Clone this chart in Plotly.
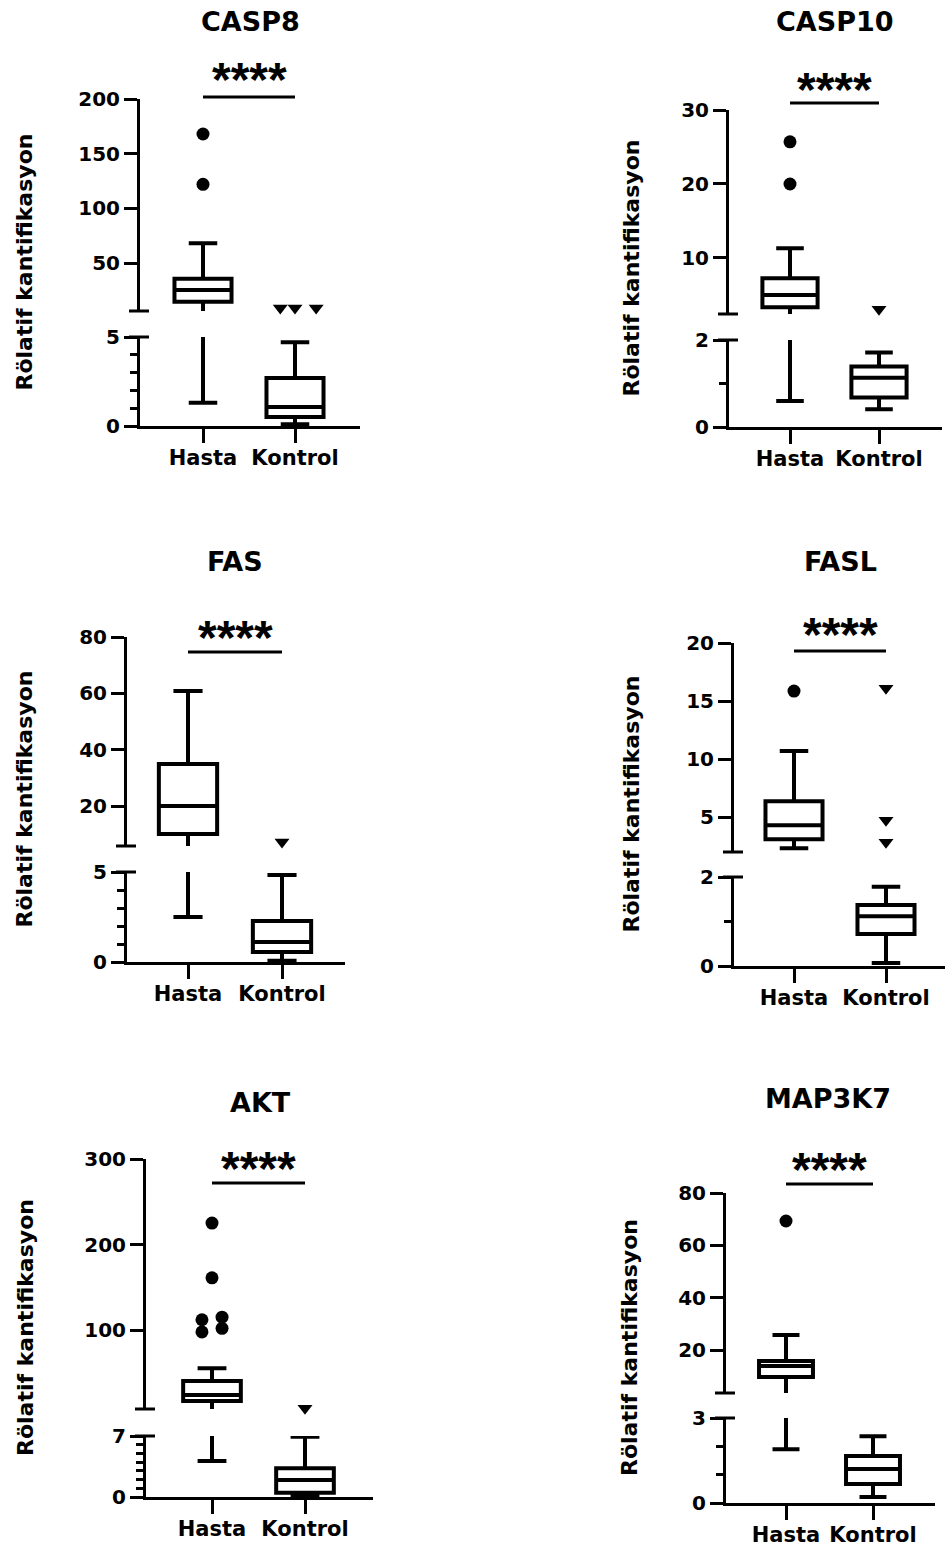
import plotly.graph_objects as go

W, H = 945, 1549

genes = ["CASP8", "CASP10", "FAS", "FASL", "AKT", "MAP3K7"]
groups = ["Hasta", "Kontrol"]
significance = ["****", "****", "****", "****", "****", "****"]
y_title = "Rölatif kantifikasyon"

# Five-number summaries: [lower whisker, Q1, median, Q3, upper whisker]
casp8_hasta = [1.3, 14.6, 25.3, 35.6, 68.0]
casp8_kontrol = [0.1, 0.5, 1.07, 2.7, 4.7]
casp10_hasta = [0.6, 3.33, 5.0, 7.26, 11.3]
casp10_kontrol = [0.41, 0.68, 1.13, 1.39, 1.71]
fas_hasta = [2.5, 10.1, 20.0, 34.9, 60.8]
fas_kontrol = [0.07, 0.56, 1.11, 2.28, 4.83]
fasl_hasta = [2.33, 3.1, 4.31, 6.38, 10.7]
fasl_kontrol = [0.07, 0.72, 1.12, 1.37, 1.78]
akt_hasta = [4.13, 17.0, 24.0, 40.4, 55.2]
akt_kontrol = [0.1, 0.5, 1.95, 3.29, 6.92]
map3k7_hasta = [1.9, 9.7, 13.9, 15.8, 25.7]
map3k7_kontrol = [0.21, 0.67, 1.2, 1.66, 2.36]

# Outliers
casp8_hasta_out = [168, 122]
casp8_kontrol_out = [8.8, 8.8, 8.8]
casp10_hasta_out = [25.7, 20.0]
casp10_kontrol_out = [3.07]
fas_hasta_out = []
fas_kontrol_out = [7.2]
fasl_hasta_out = [15.86]
fasl_kontrol_out = [16.1, 4.74, 2.84]
akt_hasta_out = [225, 161, 112, 97.7, 115, 102]
akt_kontrol_out = [8.4]
map3k7_hasta_out = [69.3]
map3k7_kontrol_out = []

stats = {
    "CASP8": (casp8_hasta, casp8_kontrol),
    "CASP10": (casp10_hasta, casp10_kontrol),
    "FAS": (fas_hasta, fas_kontrol),
    "FASL": (fasl_hasta, fasl_kontrol),
    "AKT": (akt_hasta, akt_kontrol),
    "MAP3K7": (map3k7_hasta, map3k7_kontrol),
}
outliers = {
    "CASP8": (casp8_hasta_out, casp8_kontrol_out),
    "CASP10": (casp10_hasta_out, casp10_kontrol_out),
    "FAS": (fas_hasta_out, fas_kontrol_out),
    "FASL": (fasl_hasta_out, fasl_kontrol_out),
    "AKT": (akt_hasta_out, akt_kontrol_out),
    "MAP3K7": (map3k7_hasta_out, map3k7_kontrol_out),
}

# ---- layout / style (pixel geometry of each panel) ----
jitter = {
    "CASP8": ([0, 0], [-0.16, 0.0, 0.23]),
    "CASP10": ([0, 0], [0]),
    "FAS": ([], [0]),
    "FASL": ([0], [0, 0, 0]),
    "AKT": ([0, 0, -0.108, -0.108, 0.108, 0.108], [0]),
    "MAP3K7": ([0], []),
}
P = {
    "CASP8": dict(x=(140, 360), cat=(203, 295), top=(99, 311), trange=(6.1, 200),
                  tticks=[50, 100, 150, 200], bot=(337, 426), bmax=5,
                  title=(250, 22), ytx=24, stars=73, line=97),
    "CASP10": dict(x=(729, 942), cat=(790, 879), top=(110, 314), trange=(2.43, 30),
                   tticks=[10, 20, 30], bot=(340, 427), bmax=2,
                   title=(835, 22), ytx=631, stars=83, line=103),
    "FAS": dict(x=(127, 345), cat=(188, 282), top=(637, 846), trange=(5.8, 80),
                tticks=[20, 40, 60, 80], bot=(872, 962), bmax=5,
                title=(235, 562), ytx=24, stars=632, line=652),
    "FASL": dict(x=(734, 945), cat=(794, 886), top=(643, 852), trange=(2.0, 20),
                 tticks=[5, 10, 15, 20], bot=(877, 966), bmax=2,
                 title=(840, 562), ytx=631, stars=628, line=651),
    "AKT": dict(x=(146, 373), cat=(212, 305), top=(1159, 1409), trange=(7.6, 300),
                tticks=[100, 200, 300], bot=(1436, 1497), bmax=7,
                title=(260, 1102), ytx=25, stars=1162, line=1183),
    "MAP3K7": dict(x=(726, 935), cat=(786, 873), top=(1193, 1393), trange=(3.57, 80),
                   tticks=[20, 40, 60, 80], bot=(1418, 1503), bmax=3,
                   title=(828, 1098), ytx=629, stars=1163, line=1184),
}

FONT = "DejaVu Sans, Verdana, sans-serif"
STAR_FONT = "Liberation Sans, Arial, sans-serif"
TICK_FS = 20
LW_AX = 3
LW_BOX = 4


def px_x(v):
    return v / W


def px_y(v):
    return 1 - v / H


fig = go.Figure()
layout = dict(
    template="none",
    width=W, height=H, margin=dict(l=0, r=0, t=0, b=0, pad=0), autosize=False,
    paper_bgcolor="white", plot_bgcolor="white", showlegend=False,
    font=dict(family=FONT, color="black", size=TICK_FS, weight="bold"),
)
annotations = []
shapes = []

axis_common = dict(showline=True, linewidth=LW_AX, linecolor="black", ticks="outside",
                   ticklen=13, tickwidth=LW_AX, tickcolor="black", showgrid=False,
                   zeroline=False, fixedrange=True, automargin=False,
                   tickfont=dict(family=FONT, size=TICK_FS, color="black", weight="bold"))

for i, g in enumerate(genes):
    p = P[g]
    xn = f"x{i + 1}" if i else "x"
    ytn = f"y{2 * i + 1}" if i else "y"
    ybn = f"y{2 * i + 2}"
    xk = "xaxis" + (str(i + 1) if i else "")
    ytk = "yaxis" + (str(2 * i + 1) if i else "")
    ybk = "yaxis" + str(2 * i + 2)

    xh, xc = p["cat"]
    d = xc - xh
    xr = [(p["x"][0] - xh) / d, (p["x"][1] - xh) / d]
    tlo = p["trange"][0]
    bmax = p["bmax"]

    layout[xk] = dict(axis_common, domain=[px_x(p["x"][0]), px_x(p["x"][1])], range=xr,
                      anchor=ybn, tickvals=[0, 1], ticktext=groups, ticklen=14,
                      ticklabelstandoff=-3,
                      tickfont=dict(family=FONT, size=21, color="black", weight="bold"))
    layout[ytk] = dict(axis_common, domain=[px_y(p["top"][1]), px_y(p["top"][0])],
                       range=list(p["trange"]), anchor=xn, tickvals=p["tticks"],
                       ticktext=[str(t) for t in p["tticks"]])
    layout[ybk] = dict(axis_common, domain=[px_y(p["bot"][1]), px_y(p["bot"][0])],
                       range=[0, bmax], anchor=xn, tickvals=[0, bmax],
                       ticktext=["0", str(bmax)],
                       minor=dict(dtick=1, ticks="outside", ticklen=7, tickwidth=LW_AX,
                                  tickcolor="black", showgrid=False))

    # boxes drawn in each segment they reach; each segment clips the rest
    for k, (grp, s) in enumerate(zip(groups, stats[g])):
        targets = []
        if s[4] > tlo:
            targets.append(ytn)
        if s[0] < bmax:
            targets.append(ybn)
        for yn in targets:
            fig.add_trace(go.Box(
                x=[k], lowerfence=[s[0]], q1=[s[1]], median=[s[2]], q3=[s[3]],
                upperfence=[s[4]], width=0.62, whiskerwidth=0.5,
                line=dict(color="black", width=LW_BOX), fillcolor="white",
                boxpoints=False, name=grp, xaxis=xn, yaxis=yn, hoverinfo="skip"))
        outs = outliers[g][k]
        if outs:
            top_vals = [v for v in outs if v >= tlo]
            jit = [j for v, j in zip(outs, jitter[g][k]) if v >= tlo]
            fig.add_trace(go.Scatter(
                x=[k + j for j in jit], y=top_vals, mode="markers", cliponaxis=False,
                marker=dict(symbol="circle" if k == 0 else "triangle-down", size=13,
                            color="black", line=dict(width=0)),
                xaxis=xn, yaxis=ytn, hoverinfo="skip"))

    # break end marks
    for yref, yv in ((ytn + " domain", 0), (ybn + " domain", 1)):
        shapes.append(dict(type="line", xref=xn + " domain", yref=yref,
                           xsizemode="pixel", xanchor=0, x0=-11, x1=9, y0=yv, y1=yv,
                           line=dict(color="black", width=LW_AX)))
    # significance bar
    shapes.append(dict(type="line", xref=xn, yref="paper", x0=0, x1=1,
                       y0=px_y(p["line"]), y1=px_y(p["line"]),
                       line=dict(color="black", width=LW_AX)))
    annotations.append(dict(text=significance[i], xref=xn, x=0.5, yref="paper",
                            y=px_y(p["stars"] + 6), showarrow=False,
                            font=dict(family=STAR_FONT, size=48, color="black", weight="bold"),
                            xanchor="center", yanchor="middle"))
    # title
    annotations.append(dict(text=g, xref="paper", x=px_x(p["title"][0]), yref="paper",
                            y=px_y(p["title"][1]), showarrow=False,
                            font=dict(family=FONT, size=27, color="black", weight="bold"),
                            xanchor="center", yanchor="middle"))
    # y title
    annotations.append(dict(text=y_title, xref="paper", x=px_x(p["ytx"]), yref="paper",
                            y=px_y((p["top"][0] + p["bot"][1]) / 2), showarrow=False,
                            textangle=-90,
                            font=dict(family=FONT, size=22, color="black", weight="bold"),
                            xanchor="center", yanchor="middle"))

layout["annotations"] = annotations
layout["shapes"] = shapes
fig.update_layout(**layout)
fig.write_html("out.html")
